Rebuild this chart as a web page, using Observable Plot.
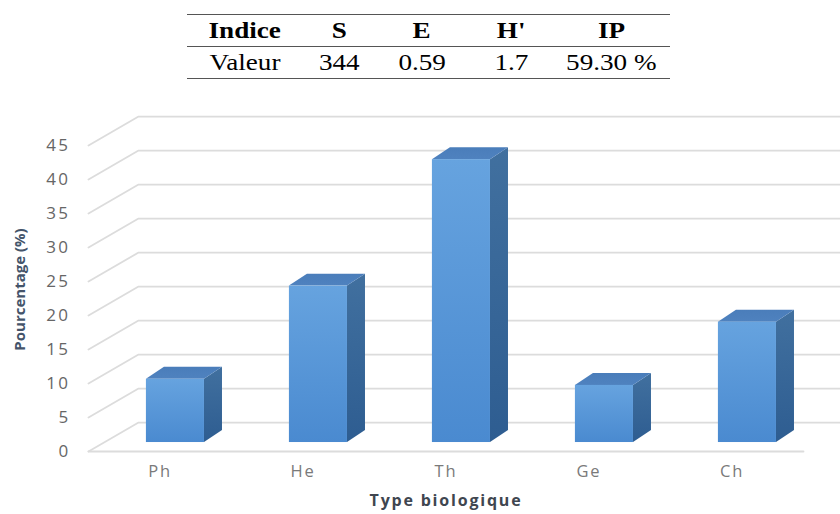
<!DOCTYPE html>
<html>
<head>
<meta charset="utf-8">
<script src="https://cdn.jsdelivr.net/npm/d3@7"></script>
<script src="https://cdn.jsdelivr.net/npm/@observablehq/plot@0.6"></script>
<style>
  html, body { margin: 0; padding: 0; background: #fff; overflow: hidden; }
  #wrap { position: relative; width: 840px; height: 514px; }
  #tbl { position: absolute; left: 187px; top: 14px; border-collapse: collapse;
         font-family: "Liberation Serif", "Times New Roman", serif; font-size: 23px; color: #000; z-index: 2; }
  #tbl td { padding: 0; height: 31px; text-align: center; }
  #tbl tr.h td { font-weight: bold; border-top: 1.6px solid #555; border-bottom: 1.6px solid #555; }
  #tbl tr.v td { border-bottom: 1.6px solid #555; }
  #tbl span { display: inline-block; transform: scaleX(1.18); }
  svg text { font-family: "Open Sans", sans-serif; }
  .ytick text { font-size: 17px; fill: #666; letter-spacing: 2.4px; }
  .xtick text { font-size: 16.5px; fill: #7a7a7a; letter-spacing: 1.8px; }
  .ylab text { font-size: 15px; font-weight: bold; fill: #44546a; }
  .xlab text { font-size: 16px; font-weight: bold; fill: #3f4650; letter-spacing: 1.8px; }
</style>
</head>
<body>
<div id="wrap"></div>
<script>
// ---- data ----
const categories = ["Ph", "He", "Th", "Ge", "Ch"];
const values = [9.3, 23.0, 41.6, 8.4, 17.7];
const yTicks = [0, 5, 10, 15, 20, 25, 30, 35, 40, 45];
const tableHeaders = ["Indice", "S", "E", "H'", "IP"];
const tableValues = ["Valeur", "344", "0.59", "1.7", "59.30 %"];
const yLabel = "Pourcentage (%)";
const xLabel = "Type biologique";

// ---- 3D geometry (in scale units) ----
const barWidth = 0.406;
const frontShift = {x: 0.108, y: 1.32};
const barDepth = {x: 0.126, y: 1.76};
const wallDepth = {x: 0.35, y: 4.26};
const xStart = -0.5, xEnd = 4.5, wallEnd = 4.76;

// ---- table ----
const colWidths = [116, 72, 94, 84, 117];
const tbl = document.createElement("table");
tbl.id = "tbl";
const cg = document.createElement("colgroup");
colWidths.forEach(w => { const c = document.createElement("col"); c.style.width = w + "px"; cg.appendChild(c); });
tbl.appendChild(cg);
[[tableHeaders, "h"], [tableValues, "v"]].forEach(([row, cls]) => {
  const tr = document.createElement("tr"); tr.className = cls;
  row.forEach(t => { const td = document.createElement("td"); const s = document.createElement("span"); s.textContent = t; td.appendChild(s); tr.appendChild(td); });
  tbl.appendChild(tr);
});
tbl.style.width = d3.sum(colWidths) + "px";
tbl.style.tableLayout = "fixed";

// ---- derived geometry ----
const bars = categories.map((c, i) => ({
  c, i, v: values[i],
  xl: i - barWidth / 2 + frontShift.x,
  xr: i + barWidth / 2 + frontShift.x,
  y0: frontShift.y,
  y1: values[i] + frontShift.y
}));
const sidePts = bars.flatMap(b => [
  {c: b.c, x: b.xr, y1: b.y0, y2: b.y1},
  {c: b.c, x: b.xr + barDepth.x, y1: b.y0 + barDepth.y, y2: b.y1 + barDepth.y}
]);
const topPts = bars.flatMap(b => [
  {c: b.c, y: b.y1, x1: b.xl, x2: b.xr},
  {c: b.c, y: b.y1 + barDepth.y, x1: b.xl + barDepth.x, x2: b.xr + barDepth.x}
]);
const wallPts = yTicks.flatMap(t => [
  {t, x: xStart, y: t},
  {t, x: xStart + wallDepth.x, y: t + wallDepth.y},
  {t, x: wallEnd, y: t + wallDepth.y}
]);

function defs() {
  const ns = "http://www.w3.org/2000/svg";
  const d = document.createElementNS(ns, "defs");
  const mk = (id, stops) => {
    const g = document.createElementNS(ns, "linearGradient");
    g.setAttribute("id", id); g.setAttribute("x1", "0"); g.setAttribute("y1", "0"); g.setAttribute("x2", "0"); g.setAttribute("y2", "1");
    stops.forEach(([o, c]) => { const s = document.createElementNS(ns, "stop"); s.setAttribute("offset", o); s.setAttribute("stop-color", c); g.appendChild(s); });
    d.appendChild(g);
  };
  mk("gFront", [["0", "#66a3df"], ["1", "#4a8ad0"]]);
  mk("gSide", [["0", "#41709f"], ["1", "#2e5d91"]]);
  mk("gTop", [["0", "#4a7dba"], ["1", "#4f82bf"]]);
  return d;
}

const chart = Plot.plot({
  width: 840,
  height: 514,
  marginLeft: 88,
  marginRight: 37,
  marginTop: 145,
  marginBottom: 63,
  x: {type: "linear", domain: [xStart, xEnd]},
  y: {domain: [0, 45]},
  marks: [
    defs,
    Plot.line(wallPts, {x: "x", y: "y", z: "t", stroke: "#dcdcdc", strokeWidth: 1.8, curve: "linear"}),
    Plot.line([{x: xStart, y: 0}, {x: xEnd, y: 0}], {x: "x", y: "y", stroke: "#dcdcdc", strokeWidth: 1.8}),
    Plot.areaY(sidePts, {x: "x", y1: "y1", y2: "y2", z: "c", fill: "url(#gSide)", curve: "linear"}),
    Plot.areaX(topPts, {y: "y", x1: "x1", x2: "x2", z: "c", fill: "url(#gTop)", curve: "linear"}),
    Plot.rect(bars, {x1: "xl", x2: "xr", y1: "y0", y2: "y1", fill: "url(#gFront)"}),
    Plot.axisY(yTicks, {tickSize: 0, tickPadding: 18, label: null, fontSize: 17, fill: "#666", className: "ytick"}),
    Plot.axisX(categories.map((c, i) => i), {tickFormat: i => categories[i], tickSize: 0, tickPadding: 14, label: null, fontSize: 16.5, fill: "#7a7a7a", className: "xtick"}),
    Plot.text([yLabel], {frameAnchor: "left", textAnchor: "middle", rotate: -90, dx: -68, dy: -9, className: "ylab"}),
    Plot.text([xLabel], {frameAnchor: "bottom", dy: 54, className: "xlab"})
  ]
});

const wrap = document.getElementById("wrap");
wrap.appendChild(chart);
wrap.appendChild(tbl);
</script>
</body>
</html>
